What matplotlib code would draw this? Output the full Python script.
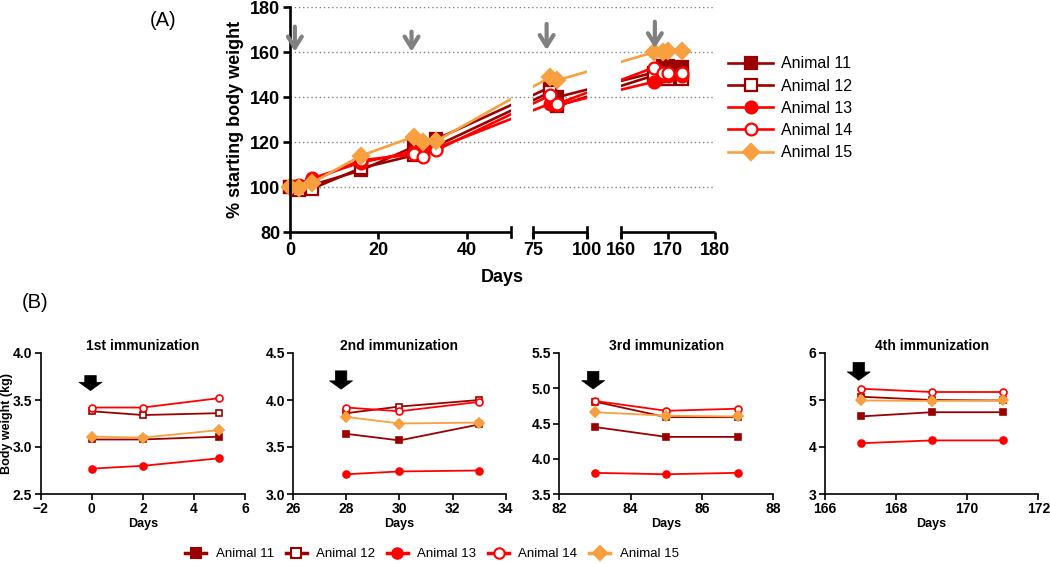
import matplotlib
matplotlib.use('Agg')
import matplotlib.pyplot as plt
import matplotlib.transforms as mtransforms
from matplotlib.patches import Rectangle
from matplotlib.lines import Line2D
import numpy as np

plt.rcParams['font.family'] = ['Liberation Sans', 'DejaVu Sans']

animals = ['Animal 11', 'Animal 12', 'Animal 13', 'Animal 14', 'Animal 15']
colors = ['#9B0000', '#9B0000', '#FF0000', '#FF0000', '#F8A040']
markers = ['s', 's', 'o', 'o', 'D']
filled = [True, False, True, False, True]

# (A) % of starting body weight over the whole study
days_a = [0, 2, 5, 16, 28, 30, 33, 83, 86, 167, 169, 170, 173]
pct_11 = [100, 100, 101, 107.5, 118, 116, 121.3, 144.5, 140, 151, 154, 154, 153.5]
pct_12 = [100, 98.8, 99.4, 108.5, 114.2, 116, 118.3, 142.3, 136, 149.7, 148, 148, 148]
pct_13 = [100, 101, 104, 111, 115.9, 117, 117.3, 137.2, 136.5, 146.9, 149.5, 149.5, 149.5]
pct_14 = [100, 100, 103, 112, 114.6, 113.5, 116.4, 140.9, 137, 153.2, 150.9, 150.9, 150.9]
pct_15 = [100, 99.5, 102, 114, 122.5, 120.3, 120.5, 149, 147.5, 160, 160, 160.5, 160.5]
pct_a = [pct_11, pct_12, pct_13, pct_14, pct_15]

# (B) body weight (kg) around each immunization, rows = animals 11..15
imm_titles = ['1st immunization', '2nd immunization', '3rd immunization', '4th immunization']
imm_days = [[0, 2, 5], [28, 30, 33], [83, 85, 87], [167, 169, 171]]
w_imm1 = [[3.08, 3.08, 3.11], [3.38, 3.34, 3.36], [2.77, 2.80, 2.88], [3.42, 3.42, 3.52], [3.11, 3.10, 3.18]]
w_imm2 = [[3.64, 3.57, 3.74], [3.86, 3.93, 4.00], [3.21, 3.24, 3.25], [3.92, 3.88, 3.98], [3.82, 3.75, 3.76]]
w_imm3 = [[4.45, 4.31, 4.31], [4.81, 4.59, 4.59], [3.80, 3.78, 3.80], [4.82, 4.68, 4.71], [4.66, 4.61, 4.60]]
w_imm4 = [[4.65, 4.74, 4.74], [5.07, 5.00, 4.99], [4.08, 4.14, 4.14], [5.24, 5.17, 5.17], [4.99, 4.98, 4.99]]
w_imm = [w_imm1, w_imm2, w_imm3, w_imm4]

W, H = 1050.0, 564.0
fig = plt.figure(figsize=(10.5, 5.64), dpi=100)


def px_axes(left, top, right, bottom):
	return fig.add_axes([left / W, 1 - bottom / H, (right - left) / W, (bottom - top) / H])


def style_marker(i):
	return dict(color=colors[i], marker=markers[i],
				markerfacecolor=colors[i] if filled[i] else 'white',
				markeredgecolor=colors[i])


# ---------------- panel A, broken x axis ----------------
brk_days = [-100, 0, 50, 75, 100, 160, 180, 400]
brk_pos = [-442, 0, 221, 243, 297, 331, 425, 1459]


def fwd(d):
	return np.interp(d, brk_days, brk_pos)


def inv(p):
	return np.interp(p, brk_pos, brk_days)


ax = px_axes(290, 7.3, 715, 232.3)
ax.set_xscale('function', functions=(fwd, inv))
tb = mtransforms.blended_transform_factory(ax.transData, ax.transAxes)
segments = [(0, 50), (75, 100), (160, 180)]
clip_segs = [(-5, 50), (75, 100), (160, 182)]

handles_a = []
for i, pct in enumerate(pct_a):
	for k, (lo, hi) in enumerate(clip_segs):
		ln, = ax.plot(days_a, pct, lw=1.9, ms=8.5, mew=1.6, label=animals[i], **style_marker(i))
		ln.set_clip_path(Rectangle((lo, -0.1), hi - lo, 1.2, transform=tb))
		if k == 0:
			handles_a.append(ln)

for v in [100, 120, 140, 160, 180]:
	ax.axhline(v, color='#808080', lw=1, linestyle=(0, (1, 2)), zorder=0)

# injection arrows
for d, top, tip in [(1.1, 171.4, 160.3), (27.5, 169.2, 160.3), (81.3, 172.6, 161), (167.2, 173.6, 161.8)]:
	ax.annotate('', xy=(d, tip), xytext=(d, top),
				arrowprops=dict(arrowstyle='->,head_length=0.4,head_width=0.25', color='#808080',
								lw=3, shrinkA=0, shrinkB=0, mutation_scale=20))

# broken bottom axis
for lo, hi in segments:
	ax.plot([lo, hi], [0, 0], color='black', lw=1.9, transform=tb, clip_on=False, solid_capstyle='butt')
for d in [50, 75, 100, 160]:
	ax.plot([d, d], [-0.022, 0.022], color='black', lw=1.9, transform=tb, clip_on=False)

ax.set_xlim(0, 180)
ax.set_ylim(80, 180)
ax.set_xticks([0, 20, 40, 75, 100, 160, 170, 180])
ax.set_yticks([80, 100, 120, 140, 160, 180])
ax.tick_params(direction='out', length=5, width=1.9, labelsize=13, pad=2)
for lab in ax.get_xticklabels() + ax.get_yticklabels():
	lab.set_fontweight('bold')
for s in ['top', 'right', 'bottom']:
	ax.spines[s].set_visible(False)
ax.spines['left'].set_linewidth(1.9)
ax.set_xlabel('Days', fontsize=13, fontweight='bold', labelpad=7)
ax.set_ylabel('% starting body weight', fontsize=13, fontweight='bold', labelpad=4)

ax.legend(handles=handles_a, labels=animals, loc='upper left', bbox_to_anchor=(714 / W, 1 - 42 / H),
		  bbox_transform=fig.transFigure, frameon=False, fontsize=11.5, handlelength=2.8,
		  handletextpad=0.5, labelspacing=0.45)

fig.text(163 / W, 1 - 20 / H, '(A)', fontsize=14.5, ha='center', va='center')
fig.text(35 / W, 1 - 303 / H, '(B)', fontsize=14.5, ha='center', va='center')

# ---------------- panel B, one plot per immunization ----------------
b_pos = [(40.7, 245), (293.3, 505.7), (559.3, 773.3), (825, 1038.3)]
b_xlim = [(-2, 6), (26, 34), (82, 88), (166, 172)]
b_ylim = [(2.5, 4.0), (3.0, 4.5), (3.5, 5.5), (3, 6)]
b_ystep = [0.5, 0.5, 0.5, 1]
b_arrow = [(-0.05, 3.76, 3.60), (27.8, 4.31, 4.115), (82.95, 5.24, 4.99), (166.95, 5.80, 5.42)]

for j in range(4):
	bx = px_axes(b_pos[j][0], 353, b_pos[j][1], 494)
	for i in range(5):
		bx.plot(imm_days[j], w_imm[j][i], lw=1.3, ms=5, mew=1.2, **style_marker(i))
	d, top, tip = b_arrow[j]
	bx.annotate('', xy=(d, tip), xytext=(d, top),
				arrowprops=dict(arrowstyle='simple,head_length=0.4,head_width=1.1,tail_width=0.55',
								color='black', lw=0.5, shrinkA=0, shrinkB=0, mutation_scale=15))
	bx.set_xlim(*b_xlim[j])
	bx.set_ylim(*b_ylim[j])
	bx.set_xticks(np.arange(b_xlim[j][0], b_xlim[j][1] + 0.1, 2))
	bx.set_yticks(np.arange(b_ylim[j][0], b_ylim[j][1] + 0.01, b_ystep[j]))
	if b_ystep[j] < 1:
		bx.yaxis.set_major_formatter('{x:.1f}')
	else:
		bx.yaxis.set_major_formatter('{x:.0f}')
	bx.tick_params(direction='out', length=4, width=1.2, labelsize=10, pad=2)
	for lab in bx.get_xticklabels() + bx.get_yticklabels():
		lab.set_fontweight('bold')
	for s in ['top', 'right']:
		bx.spines[s].set_visible(False)
	for s in ['left', 'bottom']:
		bx.spines[s].set_linewidth(1.2)
	bx.set_title(imm_titles[j], fontsize=10, fontweight='bold', pad=1.5)
	bx.set_xlabel('Days', fontsize=9, fontweight='bold', labelpad=1.5)
	if j == 0:
		bx.set_ylabel('Body weight (kg)', fontsize=9, fontweight='bold')
		bx.yaxis.set_label_coords(-0.135, 0.5)

leg_handles = [Line2D([], [], lw=2.5, ms=7.5, mew=1.5, **style_marker(i)) for i in range(5)]
fig.legend(handles=leg_handles, labels=animals, loc='center', bbox_to_anchor=(432 / W, 1 - 554 / H),
		   ncol=5, frameon=False, fontsize=9.5, handlelength=1.6, handletextpad=0.7, columnspacing=0.9)

fig.savefig('out.png', dpi=100)
